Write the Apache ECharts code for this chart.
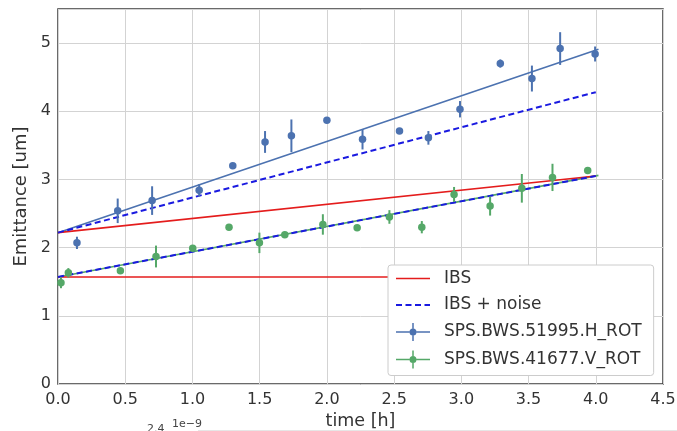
<!DOCTYPE html>
<html>
<head>
<meta charset="utf-8">
<script src="https://cdn.jsdelivr.net/npm/echarts@6/dist/echarts.min.js"></script>
<style>
html,body{margin:0;padding:0;background:#fff;}
#chart{width:677px;height:431px;}
</style>
</head>
<body>
<div id="chart"></div>
<script>
// ---- data ----
const xTicks = [0, 0.5, 1, 1.5, 2, 2.5, 3, 3.5, 4, 4.5];
const yTicks = [0, 1, 2, 3, 4, 5];

// SPS.BWS.51995.H_ROT measurements
const timeH = [0.141, 0.444, 0.70, 1.05, 1.30, 1.54, 1.736, 2.0, 2.265, 2.54, 2.755, 2.99, 3.29, 3.525, 3.735, 3.995];
const emitH = [2.07, 2.54, 2.69, 2.84, 3.20, 3.55, 3.64, 3.87, 3.59, 3.71, 3.61, 4.03, 4.70, 4.48, 4.92, 4.84];
const errH  = [0.09, 0.18, 0.21, 0.09, 0, 0.16, 0.24, 0, 0.15, 0, 0.10, 0.12, 0.06, 0.19, 0.24, 0.11];

// SPS.BWS.41677.V_ROT measurements
const timeV = [0.022, 0.077, 0.464, 0.729, 1.002, 1.272, 1.498, 1.687, 1.97, 2.225, 2.465, 2.706, 2.946, 3.214, 3.45, 3.678, 3.94];
const emitV = [1.485, 1.63, 1.66, 1.87, 1.99, 2.30, 2.07, 2.19, 2.34, 2.29, 2.45, 2.30, 2.78, 2.61, 2.87, 3.03, 3.13];
const errV  = [0.08, 0.07, 0, 0.16, 0.04, 0, 0.15, 0, 0.15, 0, 0.10, 0.09, 0.11, 0.14, 0.21, 0.20, 0];

// model lines (start / end)
const lineT     = [0, 4.0];
const fitT      = [0, 4.02];
const ibsH      = [2.22, 3.05];
const ibsNoiseH = [2.22, 4.28];
const fitH      = [2.22, 4.91];
const ibsV      = [1.57, 1.57];
const ibsNoiseV = [1.57, 3.05];
const fitV      = [1.57, 3.06];

const legendNames = ['IBS', 'IBS + noise', 'SPS.BWS.51995.H_ROT', 'SPS.BWS.41677.V_ROT'];

// ---- styling ----
const C_BLUE = '#4c72b0', C_GREEN = '#55a868', C_RED = '#e41c1c', C_DASH = '#1a1ae0';
const FONT = 'DejaVu Sans';

const pairs = (xs, ys) => xs.map((x, i) => [x, ys[i]]);
const errData = (ts, vs, es) => ts.map((t, i) => [t, vs[i] - es[i], vs[i] + es[i], es[i]]).filter(d => d[3] > 0);

function errRenderer(color) {
  return function (params, api) {
    const p1 = api.coord([api.value(0), api.value(1)]);
    const p2 = api.coord([api.value(0), api.value(2)]);
    return { type: 'line', shape: { x1: p1[0], y1: p1[1], x2: p2[0], y2: p2[1] },
             style: { stroke: color, lineWidth: 2 } };
  };
}

const errIcon = 'path://M0,8.25h13.5v1.5h-13.5Z M20.5,8.25h13.5v1.5h-13.5Z M16.25,0h1.5v5.5h-1.5Z M16.25,12.5h1.5v5.5h-1.5Z M13.5,9a3.5,3.5 0 1,1 7,0a3.5,3.5 0 1,1 -7,0Z';
const lineIcon = 'path://M0,0h34v1.6h-34Z';
const dashIcon = 'path://M0,0h6v2h-6Z M9.5,0h6v2h-6Z M19,0h6v2h-6Z M28.5,0h5.5v2h-5.5Z';

const chart = echarts.init(document.getElementById('chart'), null, { renderer: 'canvas' });

const option = {
  animation: false,
  backgroundColor: '#ffffff',
  grid: { left: 58, right: 14, top: 9, bottom: 47, show: true, borderColor: '#3a3a3a', borderWidth: 1.5,
          backgroundColor: 'transparent', containLabel: false, outerBoundsMode: 'none' },
  xAxis: {
    type: 'value', min: xTicks[0], max: xTicks[xTicks.length - 1], interval: 0.5,
    name: 'time [h]', nameLocation: 'middle', nameGap: 28,
    nameTextStyle: { fontFamily: FONT, fontSize: 17.5, color: '#333' },
    axisLine: { show: false }, axisTick: { show: false },
    axisLabel: { fontFamily: FONT, fontSize: 16, color: '#333', margin: 8, formatter: v => v.toFixed(1) },
    splitLine: { show: true, lineStyle: { color: '#d3d3d3', width: 1 } }
  },
  yAxis: {
    type: 'value', min: 0, max: 5.5, interval: 1,
    name: 'Emittance [um]', nameLocation: 'middle', nameGap: 24,
    nameTextStyle: { fontFamily: FONT, fontSize: 18, color: '#333' },
    axisLine: { show: false }, axisTick: { show: false },
    axisLabel: { fontFamily: FONT, fontSize: 16, color: '#333', margin: 7,
      formatter: v => (yTicks.indexOf(v) >= 0 ? String(v) : '') },
    splitLine: { show: true, lineStyle: { color: '#d3d3d3', width: 1 } }
  },
  legend: {
    data: [
      { name: legendNames[0], icon: lineIcon },
      { name: legendNames[1], icon: dashIcon },
      { name: legendNames[2], icon: errIcon },
      { name: legendNames[3], icon: errIcon }
    ],
    orient: 'vertical', left: 388, top: 265,
    itemWidth: 34, itemHeight: 18, itemGap: 9.5,
    padding: [5, 12, 7, 8],
    backgroundColor: '#ffffff', borderColor: '#cccccc', borderWidth: 1, borderRadius: 3,
    textStyle: { fontFamily: FONT, fontSize: 17, color: '#333', padding: [0, 0, 0, 9] },
    selectedMode: false, z: 20
  },
  series: [
    { name: 'fitH', type: 'line', data: pairs(fitT, fitH), symbol: 'none', z: 2,
      lineStyle: { color: C_BLUE, width: 1.6 }, itemStyle: { color: C_BLUE } },
    { name: 'fitV', type: 'line', data: pairs(fitT, fitV), symbol: 'none', z: 2,
      lineStyle: { color: C_GREEN, width: 1.6 }, itemStyle: { color: C_GREEN } },
    { name: legendNames[0], type: 'line', data: pairs(lineT, ibsH), symbol: 'none', z: 3,
      color: C_RED, lineStyle: { color: C_RED, width: 1.6 } },
    { name: legendNames[0], type: 'line', data: pairs(lineT, ibsV), symbol: 'none', z: 3,
      color: C_RED, lineStyle: { color: C_RED, width: 1.6 } },
    { name: legendNames[1], type: 'line', data: pairs(lineT, ibsNoiseH), symbol: 'none', z: 4,
      color: C_DASH, lineStyle: { color: C_DASH, width: 2, type: [6, 3.5] } },
    { name: legendNames[1], type: 'line', data: pairs(lineT, ibsNoiseV), symbol: 'none', z: 4,
      color: C_DASH, lineStyle: { color: C_DASH, width: 2, type: [6, 3.5] } },
    { name: 'errH', type: 'custom', data: errData(timeH, emitH, errH), encode: { x: 0, y: [1, 2] },
      renderItem: errRenderer(C_BLUE), z: 5, silent: true },
    { name: 'errV', type: 'custom', data: errData(timeV, emitV, errV), encode: { x: 0, y: [1, 2] },
      renderItem: errRenderer(C_GREEN), z: 5, silent: true },
    { name: legendNames[2], type: 'scatter', data: pairs(timeH, emitH), symbol: 'circle', symbolSize: 7.5, z: 6,
      color: C_BLUE, itemStyle: { color: C_BLUE, opacity: 1 } },
    { name: legendNames[3], type: 'scatter', data: pairs(timeV, emitV), symbol: 'circle', symbolSize: 7.5, z: 6,
      color: C_GREEN, itemStyle: { color: C_GREEN, opacity: 1 } }
  ],
  graphic: [
    { type: 'text', left: 147, top: 424, style: { text: '2.4', fontFamily: FONT, fontSize: 11, fill: '#444' } },
    { type: 'text', left: 172, top: 419, style: { text: '1e\u22129', fontFamily: FONT, fontSize: 11, fill: '#444' } },
    { type: 'line', shape: { x1: 198, y1: 430.5, x2: 677, y2: 430.5 }, style: { stroke: '#e6e6e6', lineWidth: 1 } }
  ]
};

chart.setOption(option);
</script>
</body>
</html>
